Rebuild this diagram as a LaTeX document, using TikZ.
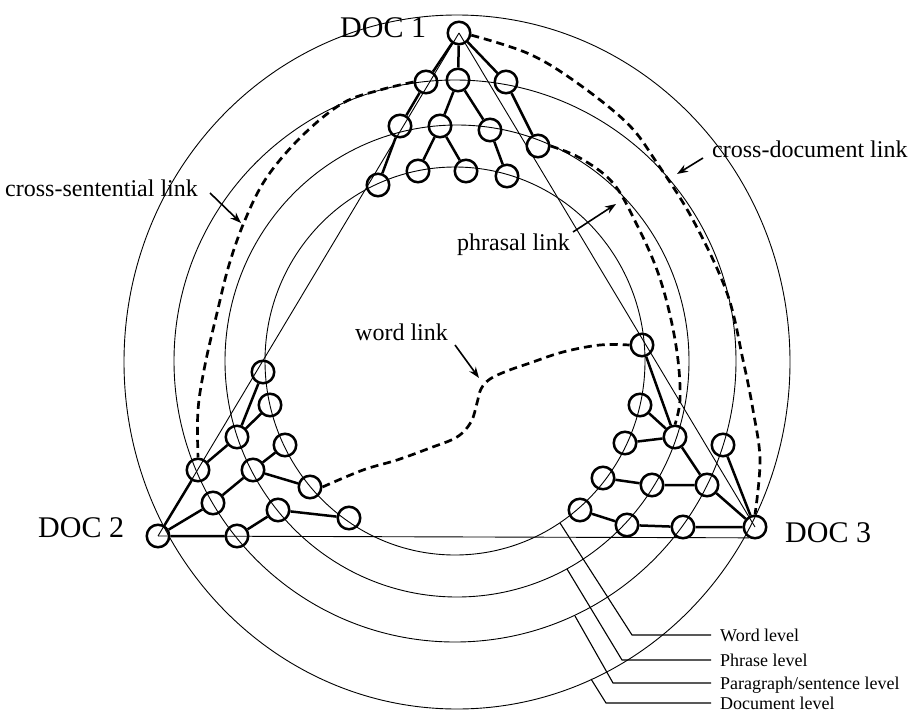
\documentclass[tikz,border=0pt]{standalone}
\usepackage{fontspec}
\setmainfont{Liberation Serif}
\usetikzlibrary{arrows.meta}
\begin{document}
\begin{tikzpicture}[x=1pt,y=-1pt,
  nd/.style={circle,draw,line width=2.5pt,minimum size=22.5pt,inner sep=0pt},
  edge/.style={line width=2.5pt},
  levelring/.style={line width=0.9pt},
  side/.style={line width=0.9pt},
  link/.style={line width=2.7pt,dash pattern=on 8pt off 5pt},
  pointer/.style={line width=1.6pt,-{Stealth[length=11pt,width=8pt]}},
  leader/.style={line width=1.1pt},
  lbl/.style={font=\fontsize{24}{28}\selectfont,inner sep=0pt,anchor=base west},
  doclbl/.style={font=\fontsize{30}{34}\selectfont,inner sep=0pt,anchor=base west},
  leg/.style={font=\fontsize{18}{21}\selectfont,inner sep=0pt,anchor=base west}]
\useasboundingbox (0,0) rectangle (910,715);

% level rings: document, paragraph/sentence, phrase, word
\draw[levelring] (457,362) ellipse [x radius=333pt, y radius=347pt];
\draw[levelring] (455,361) circle [radius=281pt];
\draw[levelring] (457,361) ellipse [x radius=232pt, y radius=236pt];
\draw[levelring] (455,361) ellipse [x radius=190pt, y radius=194pt];

% document 1 tree
\node[nd] (r1) at (459,33) {};
\node[nd] (a1) at (426,82) {};
\node[nd] (b1) at (458,80) {};
\node[nd] (c1) at (506,82) {};
\node[nd] (d1) at (400,126) {};
\node[nd] (e1) at (440,126) {};
\node[nd] (f1) at (490,130) {};
\node[nd] (g1) at (538,146) {};
\node[nd] (h1) at (378,185) {};
\node[nd] (i1) at (418,171) {};
\node[nd] (j1) at (466,171) {};
\node[nd] (k1) at (507,176) {};
\draw[edge] (r1) -- (a1) (r1) -- (b1) (r1) -- (c1)
  (a1) -- (d1) (b1) -- (e1) (b1) -- (f1) (c1) -- (g1)
  (d1) -- (h1) (e1) -- (i1) (e1) -- (j1) (f1) -- (k1);

% document 2 tree
\node[nd] (r2) at (158,536) {};
\node[nd] (p1) at (198,470) {};
\node[nd] (p2) at (213,503) {};
\node[nd] (p3) at (237,536) {};
\node[nd] (q1) at (237,437) {};
\node[nd] (q2) at (253,470) {};
\node[nd] (q3) at (278,510) {};
\node[nd] (w1) at (263,372) {};
\node[nd] (w2) at (270,405) {};
\node[nd] (w3) at (285,445) {};
\node[nd] (w4) at (310,487) {};
\node[nd] (w5) at (349,518) {};
\draw[edge] (r2) -- (p1) (r2) -- (p2) (r2) -- (p3)
  (p1) -- (q1) (p2) -- (q2) (p3) -- (q3)
  (q1) -- (w1) (q1) -- (w2) (q2) -- (w3) (q2) -- (w4) (q3) -- (w5);

% document 3 tree
\node[nd] (r3) at (755,527) {};
\node[nd] (s1) at (723,445) {};
\node[nd] (s2) at (707,485) {};
\node[nd] (s3) at (683,527) {};
\node[nd] (t1) at (675,437) {};
\node[nd] (t2) at (652,485) {};
\node[nd] (t3) at (627,525) {};
\node[nd] (u1) at (642,345) {};
\node[nd] (u2) at (640,405) {};
\node[nd] (u3) at (625,443) {};
\node[nd] (u4) at (603,478) {};
\node[nd] (u5) at (580,510) {};
\draw[edge] (r3) -- (s1) (r3) -- (s2) (r3) -- (s3)
  (s2) -- (t1) (s2) -- (t2) (s3) -- (t3)
  (t1) -- (u1) (t1) -- (u2) (t1) -- (u3) (t2) -- (u4) (t3) -- (u5);

% thin triangle joining the document roots
\draw[side] (r1.center) -- (r2.center);
\draw[side] (r1.center) -- (r3.center);
\draw[side] (r2.center) -- (r3.-120);

% dashed links
\draw[link] plot[smooth,tension=0.6] coordinates {(r1.-10) (527,53) (573,80) (627,123)
  (657,163) (693,220) (727,293) (743,360) (753,410) (760,460) (r3.north)};
\draw[link] plot[smooth,tension=0.6] coordinates {(g1.east) (580,158) (613,183) (637,225)
  (657,270) (670,315) (678,360) (680,400) (t1.north)};
\draw[link] plot[smooth,tension=0.6] coordinates {(a1.west) (380,90) (343,103) (303,135)
  (267,177) (245,220) (229,265) (217,313) (205,365) (198,410) (p1.north)};
\draw[link] plot[smooth,tension=0.6] coordinates {(w4.east) (363,470) (397,460) (430,448)
  (457,437) (471,422) (477,403) (481,389) (490,379) (507,371) (530,363) (563,352)
  (600,345) (u1.west)};

% document labels
\node[doclbl] (doc1) at (340,37) {DOC 1};
\node[doclbl] (doc2) at (38,537) {DOC 2};
\node[doclbl] (doc3) at (785,542) {DOC 3};

% link labels with pointers
\node[lbl] (cslab) at (5,196) {cross-sentential link};
\coordinate (csTail) at (210,193);
\coordinate (csTip) at (241,223);
\draw[pointer] (csTail) -- (csTip);

\node[lbl] (cdlab) at (712,157) {cross-document link};
\coordinate (cdTail) at (703,158);
\coordinate (cdTip) at (677,174);
\draw[pointer] (cdTail) -- (cdTip);

\node[lbl] (phlab) at (457,250) {phrasal link};
\coordinate (phTail) at (573,232);
\coordinate (phTip) at (616,204);
\draw[pointer] (phTail) -- (phTip);

\node[lbl] (wdlab) at (355,340) {word link};
\coordinate (wdTail) at (455,345);
\coordinate (wdTip) at (479,378);
\draw[pointer] (wdTail) -- (wdTip);

% legend for the level rings
\node[leg] (legW) at (720,641) {Word level};
\node[leg] (legP) at (720,666) {Phrase level};
\node[leg] (legS) at (720,689) {Paragraph/sentence level};
\node[leg] (legD) at (720,709) {Document level};
\coordinate (onW) at (560,523);
\coordinate (onP) at (567,569);
\coordinate (onS) at (575,616);
\coordinate (onD) at (591,679);
\draw[leader] (onW) -- (632,635) -- (711,635);
\draw[leader] (onP) -- (622,660) -- (711,660);
\draw[leader] (onS) -- (613,683) -- (711,683);
\draw[leader] (onD) -- (606,703) -- (711,703);
\end{tikzpicture}
\end{document}
